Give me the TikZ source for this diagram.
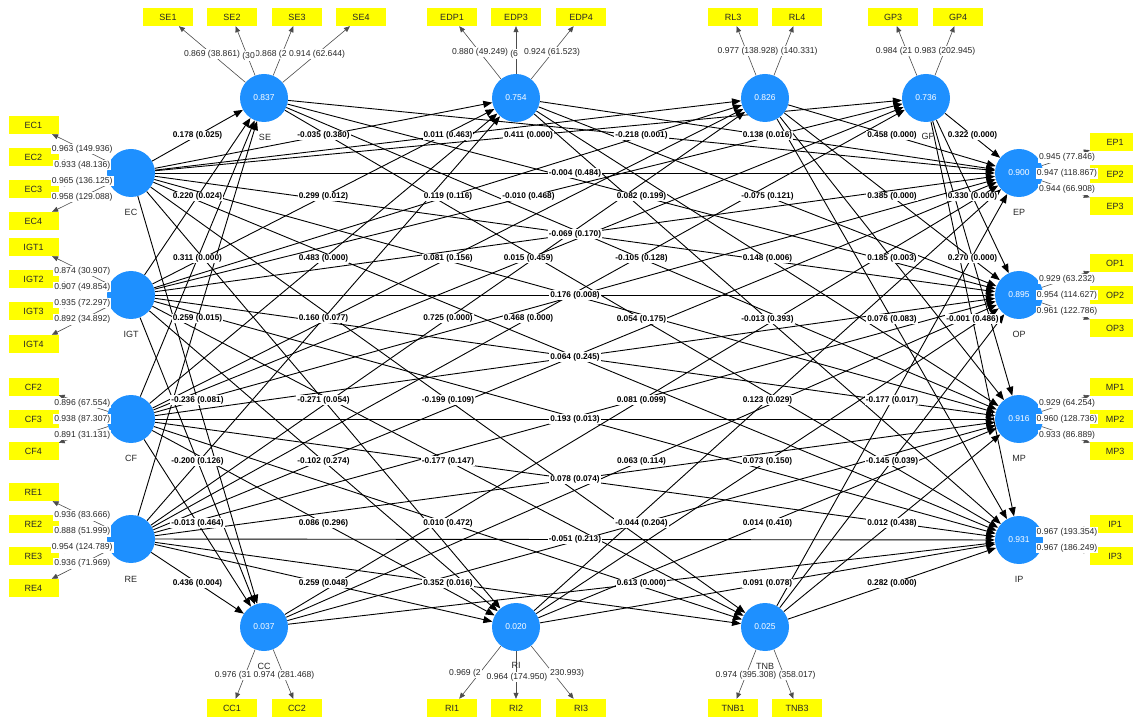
\documentclass[tikz,border=0pt]{standalone}
\usepackage{fontspec}
\setmainfont{Liberation Sans}
\usetikzlibrary{arrows.meta}
\definecolor{nodeblue}{RGB}{30,144,255}
\definecolor{indy}{RGB}{255,255,0}
\definecolor{txt}{RGB}{40,40,40}
\pgfdeclarelayer{bg}
\pgfdeclarelayer{edges}
\pgfdeclarelayer{lbl}
\pgfsetlayers{bg,edges,main,lbl}
\tikzset{
 lv/.style={circle,fill=nodeblue,minimum size=48pt,inner sep=0pt,text=white,font=\fontsize{8.5}{10}\selectfont},
 mv/.style={rectangle,fill=indy,minimum width=50pt,minimum height=18pt,inner sep=0pt,font=\fontsize{9}{10}\selectfont,text=txt},
 nm/.style={font=\fontsize{9}{10}\selectfont,text=txt},
 parr/.style={draw=black,line width=0.9pt,-{Triangle[length=9pt,width=7pt]}},
 larr/.style={draw=black!70,line width=0.6pt,-{Triangle[length=6pt,width=5pt]}},
 plbl/.style={fill=white,inner sep=1pt,font=\bfseries\fontsize{8.3}{9.5}\selectfont,text=black},
 llbl/.style={fill=white,inner sep=1pt,font=\fontsize{8.6}{9.5}\selectfont,text=txt},
}
\newcommand\pth[3]{%
 \begin{pgfonlayer}{edges}\draw[parr] (#1) -- (#2);\end{pgfonlayer}%
 \if\relax\detokenize{#3}\relax\else
 \begin{pgfonlayer}{lbl}\path (#1.center) -- (#2.center) node[plbl,midway]{#3};\end{pgfonlayer}\fi}
\newcommand\ldg[3]{%
 \begin{pgfonlayer}{edges}\draw[larr] (#1) -- (#2);\end{pgfonlayer}%
 \if\relax\detokenize{#3}\relax\else
 \begin{pgfonlayer}{lbl}\path (#1.center) -- (#2.center) node[llbl,midway]{#3};\end{pgfonlayer}\fi}
\begin{document}
\begin{tikzpicture}[x=1pt,y=-1pt]
\useasboundingbox (0,0) rectangle (1133,719);
\begin{pgfonlayer}{bg}\fill[white] (0,0) rectangle (1133,719);\end{pgfonlayer}
% latent variables
\node[lv] (SE) at (264,98) {0.837};
\node[lv] (EDP) at (516,98) {0.754};
\node[lv] (RL) at (765,98) {0.826};
\node[lv] (GP) at (926,98) {0.736};
\node[lv] (EC) at (131,173) {};
\node[lv] (IGT) at (131,295) {};
\node[lv] (CF) at (131,419) {};
\node[lv] (RE) at (131,539) {};
\node[lv] (CC) at (264,627) {0.037};
\node[lv] (RI) at (516,627) {0.020};
\node[lv] (TNB) at (765,627) {0.025};
\node[lv] (EP) at (1019,173) {0.900};
\node[lv] (OP) at (1019,295) {0.895};
\node[lv] (MP) at (1019,419) {0.916};
\node[lv] (IP) at (1019,540) {0.931};
% names
\node[nm] (nSE) at (265,137) {SE};
\node[nm] (nGP) at (928,136) {GP};
\node[nm] (nEC) at (131,212) {EC};
\node[nm] (nIGT) at (131,334) {IGT};
\node[nm] (nCF) at (131,458) {CF};
\node[nm] (nRE) at (131,579) {RE};
\node[nm] (nCC) at (264,666) {CC};
\node[nm] (nRI) at (516,665) {RI};
\node[nm] (nTNB) at (765,666) {TNB};
\node[nm] (nEP) at (1019,212) {EP};
\node[nm] (nOP) at (1019,334) {OP};
\node[nm] (nMP) at (1019,458) {MP};
\node[nm] (nIP) at (1019,579) {IP};
% indicators
\node[mv] (SE1) at (168,17) {SE1};
\node[mv] (SE2) at (232,17) {SE2};
\node[mv] (SE3) at (297,17) {SE3};
\node[mv] (SE4) at (361,17) {SE4};
\node[mv] (EDP1) at (452,17) {EDP1};
\node[mv] (EDP3) at (516,17) {EDP3};
\node[mv] (EDP4) at (581,17) {EDP4};
\node[mv] (RL3) at (733,17) {RL3};
\node[mv] (RL4) at (797,17) {RL4};
\node[mv] (GP3) at (893,17) {GP3};
\node[mv] (GP4) at (958,17) {GP4};
\node[mv] (EC1) at (33.5,125) {EC1};
\node[mv] (EC2) at (33.5,157) {EC2};
\node[mv] (EC3) at (33.5,189) {EC3};
\node[mv] (EC4) at (33.5,221) {EC4};
\node[mv] (IGT1) at (33.5,247) {IGT1};
\node[mv] (IGT2) at (33.5,279) {IGT2};
\node[mv] (IGT3) at (33.5,311) {IGT3};
\node[mv] (IGT4) at (33.5,344) {IGT4};
\node[mv] (CF2) at (33.5,387) {CF2};
\node[mv] (CF3) at (33.5,419) {CF3};
\node[mv] (CF4) at (33.5,451) {CF4};
\node[mv] (RE1) at (33.5,492) {RE1};
\node[mv] (RE2) at (33.5,524) {RE2};
\node[mv] (RE3) at (33.5,556) {RE3};
\node[mv] (RE4) at (33.5,588) {RE4};
\node[mv] (EP1) at (1115,142) {EP1};
\node[mv] (EP2) at (1115,174) {EP2};
\node[mv] (EP3) at (1115,206) {EP3};
\node[mv] (OP1) at (1115,263) {OP1};
\node[mv] (OP2) at (1115,295) {OP2};
\node[mv] (OP3) at (1115,328) {OP3};
\node[mv] (MP1) at (1115,387) {MP1};
\node[mv] (MP2) at (1115,419) {MP2};
\node[mv] (MP3) at (1115,451) {MP3};
\node[mv] (IP1) at (1115,524) {IP1};
\node[mv] (IP3) at (1115,556) {IP3};
\node[mv] (CC1) at (232,708) {CC1};
\node[mv] (CC2) at (297,708) {CC2};
\node[mv] (RI1) at (452,708) {RI1};
\node[mv] (RI2) at (516,708) {RI2};
\node[mv] (RI3) at (581,708) {RI3};
\node[mv] (TNB1) at (733,708) {TNB1};
\node[mv] (TNB3) at (797,708) {TNB3};
% structural paths: exogenous -> top mediators
\pth{EC}{SE}{0.178 (0.025)}
\pth{EC}{EDP}{-0.035 (0.380)}
\pth{EC}{RL}{0.011 (0.463)}
\pth{EC}{GP}{0.411 (0.000)}
\pth{IGT}{SE}{0.220 (0.024)}
\pth{IGT}{EDP}{0.299 (0.012)}
\pth{IGT}{RL}{0.119 (0.116)}
\pth{IGT}{GP}{-0.010 (0.468)}
\pth{CF}{SE}{0.311 (0.000)}
\pth{CF}{EDP}{0.483 (0.000)}
\pth{CF}{RL}{0.081 (0.156)}
\pth{CF}{GP}{0.015 (0.459)}
\pth{RE}{SE}{0.259 (0.015)}
\pth{RE}{EDP}{0.160 (0.077)}
\pth{RE}{RL}{0.725 (0.000)}
\pth{RE}{GP}{0.468 (0.000)}
% exogenous -> bottom mediators
\pth{EC}{CC}{-0.236 (0.081)}
\pth{EC}{RI}{-0.271 (0.054)}
\pth{EC}{TNB}{-0.199 (0.109)}
\pth{IGT}{CC}{-0.200 (0.126)}
\pth{IGT}{RI}{-0.102 (0.274)}
\pth{IGT}{TNB}{-0.177 (0.147)}
\pth{CF}{CC}{-0.013 (0.464)}
\pth{CF}{RI}{0.086 (0.296)}
\pth{CF}{TNB}{0.010 (0.472)}
\pth{RE}{CC}{0.436 (0.004)}
\pth{RE}{RI}{0.259 (0.048)}
\pth{RE}{TNB}{0.352 (0.016)}
% top mediators -> outcomes
\pth{SE}{EP}{-0.218 (0.001)}
\pth{EDP}{EP}{0.138 (0.016)}
\pth{RL}{EP}{0.458 (0.000)}
\pth{GP}{EP}{0.322 (0.000)}
\pth{SE}{OP}{0.082 (0.199)}
\pth{EDP}{OP}{-0.075 (0.121)}
\pth{RL}{OP}{0.385 (0.000)}
\pth{GP}{OP}{0.330 (0.000)}
\pth{SE}{MP}{-0.105 (0.128)}
\pth{EDP}{MP}{0.148 (0.006)}
\pth{RL}{MP}{0.185 (0.003)}
\pth{GP}{MP}{0.270 (0.000)}
\pth{SE}{IP}{0.054 (0.175)}
\pth{EDP}{IP}{-0.013 (0.393)}
\pth{RL}{IP}{0.076 (0.083)}
\pth{GP}{IP}{-0.001 (0.486)}
% bottom mediators -> outcomes
\pth{CC}{EP}{0.081 (0.099)}
\pth{RI}{EP}{0.123 (0.029)}
\pth{TNB}{EP}{-0.177 (0.017)}
\pth{CC}{OP}{0.063 (0.114)}
\pth{RI}{OP}{0.073 (0.150)}
\pth{TNB}{OP}{-0.145 (0.039)}
\pth{CC}{MP}{-0.044 (0.204)}
\pth{RI}{MP}{0.014 (0.410)}
\pth{TNB}{MP}{0.012 (0.438)}
\pth{CC}{IP}{0.613 (0.000)}
\pth{RI}{IP}{0.091 (0.078)}
\pth{TNB}{IP}{0.282 (0.000)}
% direct paths
\pth{IGT}{EP}{}
\pth{EC}{MP}{}
\pth{EC}{IP}{}
\pth{CF}{OP}{}
\pth{IGT}{IP}{}
\pth{RE}{OP}{}
\pth{RE}{MP}{}
\pth{RE}{EP}{}
\pth{CF}{EP}{}
\pth{EC}{EP}{-0.004 (0.484)}
\pth{EC}{OP}{-0.069 (0.170)}
\pth{IGT}{OP}{0.176 (0.008)}
\pth{IGT}{MP}{0.064 (0.245)}
\pth{CF}{MP}{0.193 (0.013)}
\pth{CF}{IP}{0.078 (0.074)}
\pth{RE}{IP}{-0.051 (0.213)}
% outer loadings
\ldg{EC}{EC1}{0.963 (149.936)}
\ldg{EC}{EC4}{0.958 (129.088)}
\ldg{EC}{EC2}{0.933 (48.136)}
\ldg{EC}{EC3}{0.965 (136.125)}
\ldg{IGT}{IGT1}{0.874 (30.907)}
\ldg{IGT}{IGT4}{0.892 (34.892)}
\ldg{IGT}{IGT2}{0.907 (49.854)}
\ldg{IGT}{IGT3}{0.935 (72.297)}
\ldg{CF}{CF2}{0.896 (67.554)}
\ldg{CF}{CF4}{0.891 (31.131)}
\ldg{CF}{CF3}{0.938 (87.307)}
\ldg{RE}{RE1}{0.936 (83.666)}
\ldg{RE}{RE4}{0.936 (71.969)}
\ldg{RE}{RE2}{0.888 (51.999)}
\ldg{RE}{RE3}{0.954 (124.789)}
\ldg{EP}{EP1}{0.945 (77.846)}
\ldg{EP}{EP3}{0.944 (66.908)}
\ldg{EP}{EP2}{0.947 (118.867)}
\ldg{OP}{OP1}{0.929 (63.232)}
\ldg{OP}{OP3}{0.961 (122.786)}
\ldg{OP}{OP2}{0.954 (114.627)}
\ldg{MP}{MP1}{0.929 (64.254)}
\ldg{MP}{MP3}{0.933 (86.889)}
\ldg{MP}{MP2}{0.960 (128.736)}
\ldg{IP}{IP1}{0.967 (193.354)}
\ldg{IP}{IP3}{0.967 (186.249)}
\ldg{SE}{SE1}{}
\ldg{SE}{SE2}{}
\ldg{SE}{SE3}{}
\ldg{SE}{SE4}{}
\ldg{EDP}{EDP1}{}
\ldg{EDP}{EDP3}{}
\ldg{EDP}{EDP4}{}
\ldg{RL}{RL3}{}
\ldg{RL}{RL4}{}
\ldg{GP}{GP3}{}
\ldg{GP}{GP4}{}
\ldg{CC}{CC1}{}
\ldg{CC}{CC2}{}
\ldg{RI}{RI1}{}
\ldg{RI}{RI2}{}
\ldg{RI}{RI3}{}
\ldg{TNB}{TNB1}{}
\ldg{TNB}{TNB3}{}
\begin{pgfonlayer}{lbl}
\node[llbl] (lSE1) at (212,54) {0.869 (38.861)};
\node[llbl] (lSE4) at (317,54) {0.914 (62.644)};
\node[llbl,anchor=east] (lSE3) at (lSE4.west) {0.868 (2};
\node[llbl,anchor=west] (lSE2) at ([yshift=-2pt]lSE1.east) {(30};
\node[llbl] (lEDP1) at (480,52) {0.880 (49.249)};
\node[llbl] (lEDP4) at (552,52) {0.924 (61.523)};
\node[llbl,anchor=west] (lEDP3) at ([yshift=-2pt]lEDP1.east) {(6};
\node[llbl] (lRL3) at (748,51) {0.977 (138.928)};
\node[llbl,anchor=west] (lRL4) at (lRL3.east) {(140.331)};
\node[llbl] (lGP4) at (945,51) {0.983 (202.945)};
\node[llbl,anchor=east] (lGP3) at (lGP4.west) {0.984 (21};
\node[llbl] (lCC2) at (284,675) {0.974 (281.468)};
\node[llbl,anchor=east] (lCC1) at (lCC2.west) {0.976 (31};
\node[llbl] (lRI1) at (465,673) {0.969 (2};
\node[llbl] (lRI3) at (567,673) {230.993)};
\node[llbl] (lRI2) at (517,677) {0.964 (174.950)};
\node[llbl] (lTNB1) at (746,675) {0.974 (395.308)};
\node[llbl,anchor=west] (lTNB3) at (lTNB1.east) {(358.017)};
\end{pgfonlayer}
\end{tikzpicture}
\end{document}
